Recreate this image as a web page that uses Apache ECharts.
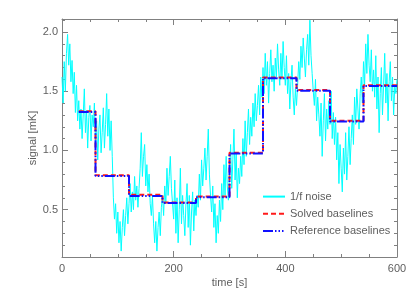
<!DOCTYPE html>
<html>
<head>
<meta charset="utf-8">
<script src="https://cdn.jsdelivr.net/npm/echarts@6/dist/echarts.min.js"></script>
<style>
html,body{margin:0;padding:0;background:#fff;}
#c{width:415px;height:297px;}
</style>
</head>
<body>
<div id="c"></div>
<script>
// ---- data ----
const seriesNames = ['1/f noise', 'Solved baselines', 'Reference baselines'];
const noiseStep = 2; // seconds between noise samples
const noise = [
1.62,1.40,1.75,1.50,1.82,1.98,1.72,1.90,1.58,1.76,
1.48,1.66,1.32,1.55,1.25,1.42,1.18,1.35,1.10,1.30,
1.52,1.15,1.34,1.02,1.28,1.38,1.08,1.30,1.20,1.40,
1.05,1.25,0.92,1.18,1.30,0.98,1.15,1.36,1.02,1.22,
1.48,1.12,1.35,1.00,1.25,0.95,0.60,0.42,0.55,0.30,
0.48,0.22,0.40,0.15,0.35,0.50,0.28,0.45,0.60,0.38,
0.55,0.72,0.48,0.65,0.50,0.78,0.58,0.70,0.52,0.68,
0.85,1.15,0.78,0.95,1.05,0.70,0.88,0.65,0.80,0.55,
0.45,0.62,0.38,0.22,0.40,0.15,0.35,0.48,0.28,0.52,
0.62,0.45,0.70,0.55,0.85,0.62,0.78,0.95,0.68,0.55,
0.42,0.75,0.30,0.60,0.22,0.50,0.85,0.38,0.62,0.45,
0.28,0.55,0.72,0.35,0.62,0.20,0.48,0.65,0.32,0.58,
0.45,0.62,0.52,0.80,0.58,0.92,0.70,0.85,1.02,0.75,
0.95,1.18,0.80,0.62,0.48,0.70,0.35,0.55,0.22,0.45,
0.30,0.58,0.40,0.72,0.50,0.88,0.62,0.95,0.70,0.58,
0.82,1.05,0.68,0.92,1.18,0.75,0.98,0.60,0.85,0.72,
0.95,0.78,1.10,0.88,1.25,0.95,1.15,1.35,1.05,1.28,
1.12,1.40,1.20,1.48,1.25,1.38,1.55,1.30,1.62,1.45,
1.70,1.48,1.82,1.55,1.75,1.40,1.65,1.85,1.58,1.72,
1.50,1.78,1.62,1.90,1.68,1.55,1.82,1.60,1.92,1.70,
1.55,1.80,1.48,1.65,1.35,1.58,1.72,1.45,1.30,1.52,
1.38,1.55,1.75,1.60,1.88,1.70,1.95,1.78,1.62,1.85,
1.98,1.72,2.10,1.80,1.65,1.50,1.38,1.60,1.25,1.45,
1.30,1.12,1.40,0.95,1.25,1.48,1.08,1.35,1.18,1.42,
1.22,1.50,1.10,1.32,1.05,1.28,0.92,1.15,0.72,1.05,
0.85,0.65,1.02,0.80,1.15,0.75,0.95,1.20,0.88,1.10,
1.30,1.05,1.45,1.22,1.52,1.35,1.18,1.48,1.62,1.40,
1.75,1.55,1.90,1.65,1.98,1.72,1.58,1.85,1.50,1.68,
1.45,1.80,1.35,1.62,1.15,1.48,1.70,1.30,1.55,1.82,
1.40,1.65,1.25,1.58,1.75,1.42,1.62,1.30,1.55,1.48,
1.60
];
const segmentStarts = [30, 60, 120, 180, 240, 300, 360, 420, 480, 540, 600];
const solvedBaselines = [1.33, 0.79, 0.625, 0.56, 0.61, 0.98, 1.615, 1.51, 1.25, 1.55];
const referenceBaselines = [1.325, 0.785, 0.615, 0.555, 0.605, 0.975, 1.61, 1.505, 1.245, 1.545];
const xTicks = [0, 200, 400, 600];
const yMajorTicks = [0.5, 1.0, 1.5, 2.0];
const yMinorTicks = [0.2,0.3,0.4,0.6,0.7,0.8,0.9,1.1,1.2,1.3,1.4,1.6,1.7,1.8,1.9,2.1];

// ---- build ----
const noiseData = noise.map((v, i) => [i * noiseStep, v]);
function stepData(vals) {
  const d = vals.map((v, i) => [segmentStarts[i], v]);
  d.push([segmentStarts[segmentStarts.length - 1], vals[vals.length - 1]]);
  return d;
}
const axisColor = '#808080';
const textColor = '#5e5e5e';
const font = 'Liberation Sans';

function yAxisDef(pos, showLine, ticks, len, labels) {
  return {
    type: 'value', position: pos, min: 0.1, max: 2.11,
    axisLine: {show: showLine, lineStyle: {color: axisColor, width: 1}},
    axisTick: {show: true, inside: true, length: len, customValues: ticks,
      lineStyle: {color: axisColor, width: 1}},
    axisLabel: {show: labels, customValues: yMajorTicks, margin: 4,
      color: textColor, fontFamily: font, fontSize: 11,
      formatter: v => v.toFixed(1)},
    splitLine: {show: false},
    name: labels ? 'signal [mK]' : '',
    nameLocation: 'middle', nameGap: 24, nameMoveOverlap: false,
    nameTextStyle: {color: textColor, fontFamily: font, fontSize: 11}
  };
}
function xAxisDef(pos, labels) {
  return {
    type: 'value', position: pos, min: 0, max: 600, interval: 200,
    axisLine: {show: true, lineStyle: {color: axisColor, width: 1}},
    axisTick: {show: true, inside: true, length: 6, lineStyle: {color: axisColor}},
    minorTick: {show: true, splitNumber: 4, length: 3, lineStyle: {color: axisColor}},
    axisLabel: {show: labels, margin: 6, color: textColor, fontFamily: font, fontSize: 11,
      customValues: xTicks},
    splitLine: {show: false},
    name: labels ? 'time [s]' : '',
    nameLocation: 'middle', nameGap: 20, nameMoveOverlap: false,
    nameTextStyle: {color: textColor, fontFamily: font, fontSize: 11}
  };
}

const chart = echarts.init(document.getElementById('c'), null, {renderer: 'canvas'});
chart.setOption({
  animation: false,
  backgroundColor: '#fff',
  grid: {left: 62, right: 18, top: 19, bottom: 40},
  legend: {
    orient: 'vertical', left: 257, top: 186,
    itemWidth: 22, itemHeight: 14, itemGap: 6,
    data: seriesNames,
    itemStyle: {opacity: 0},
    textStyle: {color: textColor, fontFamily: font, fontSize: 11}
  },
  xAxis: [xAxisDef('bottom', true), xAxisDef('top', false)],
  yAxis: [
    yAxisDef('left', true, yMinorTicks, 3, true),
    yAxisDef('left', false, yMajorTicks, 6, false),
    yAxisDef('right', true, yMinorTicks, 3, false),
    yAxisDef('right', false, yMajorTicks, 6, false)
  ],
  series: [
    {name: seriesNames[0], type: 'line', data: noiseData, symbol: 'none',
     lineStyle: {color: '#00ffff', width: 1}, itemStyle: {color: '#00ffff'}, z: 1},
    {name: seriesNames[1], type: 'line', step: 'end', data: stepData(solvedBaselines), symbol: 'none',
     lineStyle: {color: '#ff1a1a', width: 2, type: [5, 3]}, itemStyle: {color: '#ff1a1a'}, z: 2},
    {name: seriesNames[2], type: 'line', step: 'end', data: stepData(referenceBaselines), symbol: 'none',
     lineStyle: {color: '#1010ff', width: 2, type: [10, 2, 1.5, 2, 1.5, 2, 1.5, 2]}, itemStyle: {color: '#1010ff'}, z: 3}
  ]
});
</script>
</body>
</html>
